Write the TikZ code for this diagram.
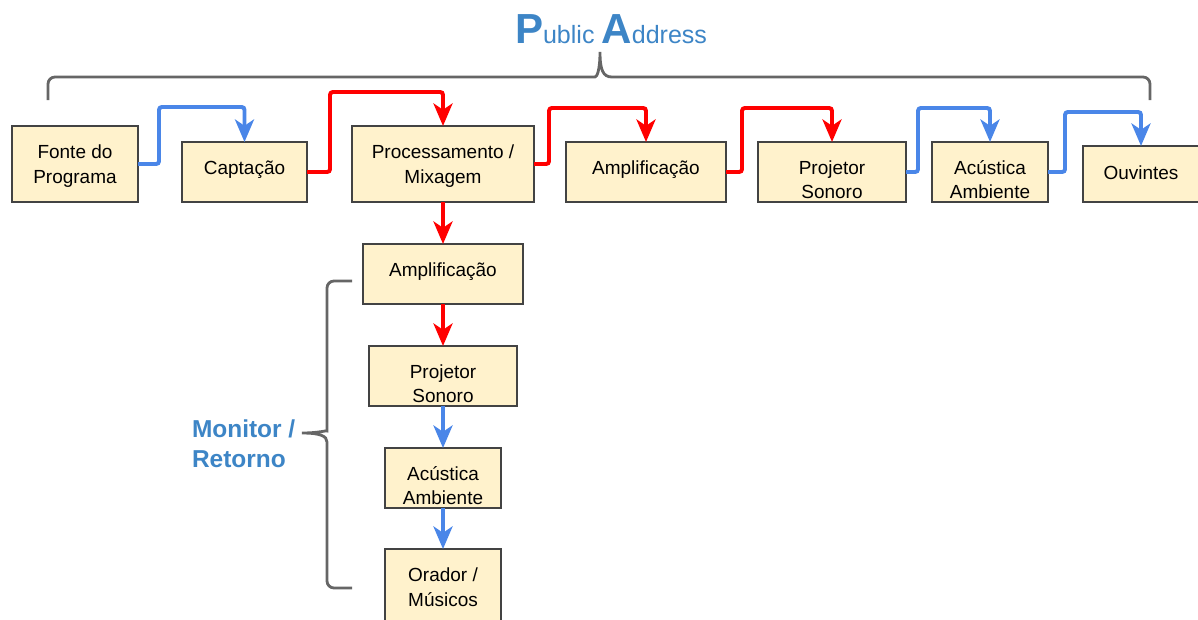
\documentclass[tikz,border=0pt]{standalone}
\usepackage{fontspec}
\setmainfont{Liberation Sans}
\usepackage{tikz}
\usetikzlibrary{arrows.meta}

\definecolor{caixa}{HTML}{FFF2CC}
\definecolor{borda}{HTML}{434343}
\definecolor{titulo}{HTML}{3D85C6}
\definecolor{azul}{HTML}{4A86E8}
\definecolor{cinza}{HTML}{666666}

\begin{document}
\begin{tikzpicture}[x=0.025cm, y=-0.025cm]
\tikzstyle{every node} = [inner sep=0pt, outer sep=0pt]
\tikzstyle{bloco} = [draw=borda, line width=1.4pt, fill=caixa, align=center, font=\fontsize{13.5}{17.4}\selectfont]
\tikzstyle{alto} = [text height=8pt, text depth=4.7pt]
\tikzstyle{meio} = [text height=30pt, text depth=2.9pt]
\tikzstyle{baixo} = [text height=39pt, text depth=1.2pt]
\tikzstyle{sinal} = [draw=red, line width=2.8pt, rounded corners=2pt, -{Stealth[length=16pt, width=13.5pt, inset=4.5pt]}]
\tikzstyle{som} = [sinal, draw=azul]
\tikzstyle{colchete} = [draw=cinza, line width=2pt]

\useasboundingbox (0, 0) rectangle (1198, 619);
\clip (0, 0) rectangle (1198, 619);

\node[text=titulo, anchor=base, font=\fontsize{17.8}{18}\selectfont] (pa) at (611, 43)
  {{\fontsize{29.9}{30}\selectfont\bfseries P}ublic {\fontsize{29.9}{30}\selectfont\bfseries A}ddress};

% caminho principal
\node[bloco, meio, minimum width=3.15cm, minimum height=1.9cm] (fonte) at (75, 164) {Fonte do\\Programa};
\node[bloco, alto, minimum width=3.125cm, minimum height=1.5cm] (capt) at (244.5, 172) {Captação};
\node[bloco, meio, minimum width=4.55cm, minimum height=1.9cm] (proc) at (443, 164) {Processamento /\\Mixagem};
\node[bloco, alto, minimum width=4cm, minimum height=1.5cm] (amp) at (646, 172) {Amplificação};
\node[bloco, baixo, minimum width=3.7cm, minimum height=1.5cm] (proj) at (832, 172) {Projetor\\Sonoro};
\node[bloco, baixo, minimum width=2.9cm, minimum height=1.5cm] (acu) at (990, 172) {Acústica\\Ambiente};
\node[bloco, text height=10pt, text depth=2.5pt, minimum width=2.9cm, minimum height=1.4cm] (ouv) at (1141, 174) {Ouvintes};

% retorno
\node[bloco, alto, minimum width=4cm, minimum height=1.5cm] (amp2) at (443, 274) {Amplificação};
\node[bloco, baixo, minimum width=3.7cm, minimum height=1.5cm] (proj2) at (443, 376) {Projetor\\Sonoro};
\node[bloco, baixo, minimum width=2.9cm, minimum height=1.5cm] (acu2) at (443, 478) {Acústica\\Ambiente};
\node[bloco, meio, minimum width=2.9cm, minimum height=1.9cm] (orad) at (443, 587) {Orador /\\Músicos};

\node[anchor=base west, text=titulo, align=left, font=\fontsize{17.4}{21.3}\selectfont\bfseries] (mon) at (192, 467) {Monitor /\\Retorno};

\draw[som] (fonte.east) -| ++(21, -57) -| (capt.north);
\draw[sinal] (capt.east) -| ++(23, -80) -| (proc.north);
\draw[sinal] (proc.east) -| ++(15, -56) -| (amp.north);
\draw[sinal] (amp.east) -| ++(16, -64) -| (proj.north);
\draw[som] (proj.east) -| ++(12, -64) -| (acu.north);
\draw[som] (acu.east) -| ++(17, -60) -| (ouv.north);

\foreach \de/\para in {proc/amp2, amp2/proj2}
  \draw[sinal] (\de) -- (\para);
\foreach \de/\para in {proj2/acu2, acu2/orad}
  \draw[som] (\de) -- (\para);

% chaves
\draw[colchete] (48, 100) [rounded corners=5pt] |- (588, 77) [sharp corners]
  .. controls (597, 77) and (600, 70) .. (600, 52)
  .. controls (600, 70) and (603, 77) .. (612, 77) [rounded corners=5pt] -| (1150, 100);
\draw[colchete] (352, 281) [rounded corners=5pt] -| (327, 424) [sharp corners]
  .. controls (327, 430) and (320, 433) .. (302, 433)
  .. controls (320, 433) and (327, 436) .. (327, 442) [rounded corners=5pt] |- (352, 588);
\end{tikzpicture}
\end{document}
